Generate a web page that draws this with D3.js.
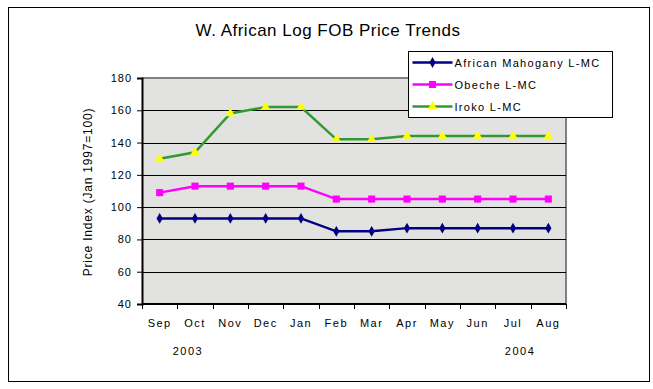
<!DOCTYPE html>
<html>
<head>
<meta charset="utf-8">
<script src="https://cdn.jsdelivr.net/npm/d3@7"></script>
<style>
  body { margin: 0; background: #fff; }
  text { font-family: "Liberation Sans", Arial, sans-serif; fill: #000; }
</style>
</head>
<body>
<div id="chart"></div>
<script>
// chart data
var months = ["Sep", "Oct", "Nov", "Dec", "Jan", "Feb", "Mar", "Apr", "May", "Jun", "Jul", "Aug"];
var mahogany = [93, 93, 93, 93, 93, 85, 85, 87, 87, 87, 87, 87];
var obeche = [109, 113, 113, 113, 113, 105, 105, 105, 105, 105, 105, 105];
var iroko = [130, 134, 158, 162, 162, 142, 142, 144, 144, 144, 144, 144];
var yTicks = [40, 60, 80, 100, 120, 140, 160, 180];
var years = [{ label: "2003", month: "Oct", shift: -0.2 }, { label: "2004", month: "Jul", shift: 0.2 }];

var series = [
  { name: "African Mahogany L-MC", values: mahogany, line: "#000080", fill: "#000080", symbol: d3.symbolDiamond, size: 34 },
  { name: "Obeche L-MC", values: obeche, line: "#ff00ff", fill: "#ff00ff", symbol: d3.symbolSquare, size: 50 },
  { name: "Iroko L-MC", values: iroko, line: "#339933", fill: "#ffff00", symbol: d3.symbolTriangle, size: 38 }
];

var svgWidth = 653;
var svgHeight = 389;

var plot = { left: 142, right: 566, top: 78, bottom: 304 };

var svg = d3.select("#chart")
  .append("svg")
  .attr("width", svgWidth)
  .attr("height", svgHeight);

// outer frame
svg.append("rect")
  .attr("x", 8.5).attr("y", 7.5)
  .attr("width", 641).attr("height", 374)
  .attr("fill", "#fff")
  .attr("stroke", "#000")
  .attr("stroke-width", 1);

// title
svg.append("text")
  .attr("x", 328).attr("y", 36)
  .attr("text-anchor", "middle")
  .attr("font-size", 17)
  .attr("letter-spacing", 0.5)
  .text("W. African Log FOB Price Trends");

var x = d3.scaleBand()
  .domain(months)
  .range([plot.left, plot.right]);

var y = d3.scaleLinear()
  .domain([40, 180])
  .range([plot.bottom, plot.top]);

// plot area
svg.append("rect")
  .attr("x", plot.left).attr("y", plot.top)
  .attr("width", plot.right - plot.left)
  .attr("height", plot.bottom - plot.top)
  .attr("fill", "#e2e2e0");

// grey border on top and right
svg.append("path")
  .attr("d", `M${plot.left},${plot.top}H${plot.right}V${plot.bottom}`)
  .attr("fill", "none")
  .attr("stroke", "#808080")
  .attr("stroke-width", 2);

// gridlines
svg.append("g")
  .selectAll("line")
  .data(yTicks.filter(d => d > 40 && d < 180))
  .enter()
  .append("line")
  .attr("x1", plot.left).attr("x2", plot.right)
  .attr("y1", d => Math.round(y(d)) + 0.5)
  .attr("y2", d => Math.round(y(d)) + 0.5)
  .attr("stroke", "#000");

// y axis
var leftAxis = d3.axisLeft(y).tickValues(yTicks).tickSize(5).tickPadding(5);
var yAxis = svg.append("g")
  .attr("transform", `translate(${plot.left}, 0)`)
  .call(leftAxis);
yAxis.select(".domain").attr("stroke-width", 2);
yAxis.selectAll("text")
  .attr("font-size", 11)
  .attr("letter-spacing", 1)
  .attr("font-family", "Liberation Sans, Arial, sans-serif");

// x axis: ticks sit between categories
var bottomAxis = d3.axisBottom(x).tickSize(0).tickPadding(15);
var xAxis = svg.append("g")
  .attr("transform", `translate(0, ${plot.bottom})`)
  .call(bottomAxis);
xAxis.select(".domain").attr("d", `M${plot.left},0H${plot.right}`).attr("stroke-width", 2);
xAxis.selectAll("text")
  .attr("font-size", 11)
  .attr("letter-spacing", 1.5)
  .attr("font-family", "Liberation Sans, Arial, sans-serif");

var edges = months.map(m => x(m)).concat([plot.right]);
xAxis.selectAll(".edge")
  .data(edges)
  .enter()
  .append("line")
  .attr("class", "edge")
  .attr("x1", d => Math.round(d) + 0.5)
  .attr("x2", d => Math.round(d) + 0.5)
  .attr("y1", 0).attr("y2", 5)
  .attr("stroke", "#000");

// year labels
svg.append("g")
  .selectAll("text")
  .data(years)
  .enter()
  .append("text")
  .attr("x", d => x(d.month) + x.bandwidth() / 2 + d.shift * x.bandwidth())
  .attr("y", 355)
  .attr("text-anchor", "middle")
  .attr("font-size", 11)
  .attr("letter-spacing", 1.5)
  .text(d => d.label);

// y axis title
svg.append("text")
  .attr("transform", `translate(92, 192) rotate(-90)`)
  .attr("text-anchor", "middle")
  .attr("font-size", 12)
  .attr("letter-spacing", 0.8)
  .text("Price Index (Jan 1997=100)");

// lines and markers
var line = d3.line()
  .x((d, i) => x(months[i]) + x.bandwidth() / 2)
  .y(d => y(d));

series.forEach(function(s) {
  var g = svg.append("g");
  g.append("path")
    .datum(s.values)
    .attr("d", line)
    .attr("fill", "none")
    .attr("stroke", s.line)
    .attr("stroke-width", 2.5);
  g.selectAll("path.marker")
    .data(s.values)
    .enter()
    .append("path")
    .attr("class", "marker")
    .attr("d", d3.symbol().type(s.symbol).size(s.size))
    .attr("transform", (d, i) => `translate(${x(months[i]) + x.bandwidth() / 2}, ${y(d)})`)
    .attr("fill", s.fill);
});

// legend
var legend = svg.append("g").attr("transform", "translate(408.5, 51.5)");
legend.append("rect")
  .attr("width", 204).attr("height", 66)
  .attr("fill", "#fff")
  .attr("stroke", "#000");

var items = legend.selectAll("g.item")
  .data(series)
  .enter()
  .append("g")
  .attr("class", "item")
  .attr("transform", (d, i) => `translate(0, ${11 + i * 22})`);

items.append("line")
  .attr("x1", 4).attr("x2", 44)
  .attr("y1", 0).attr("y2", 0)
  .attr("stroke", d => d.line)
  .attr("stroke-width", 2.5);

items.append("path")
  .attr("d", d => d3.symbol().type(d.symbol).size(d.size)())
  .attr("transform", "translate(24, 0)")
  .attr("fill", d => d.fill);

items.append("text")
  .attr("x", 46).attr("y", 4)
  .attr("font-size", 11)
  .attr("letter-spacing", 1.3)
  .text(d => d.name);
</script>
</body>
</html>
